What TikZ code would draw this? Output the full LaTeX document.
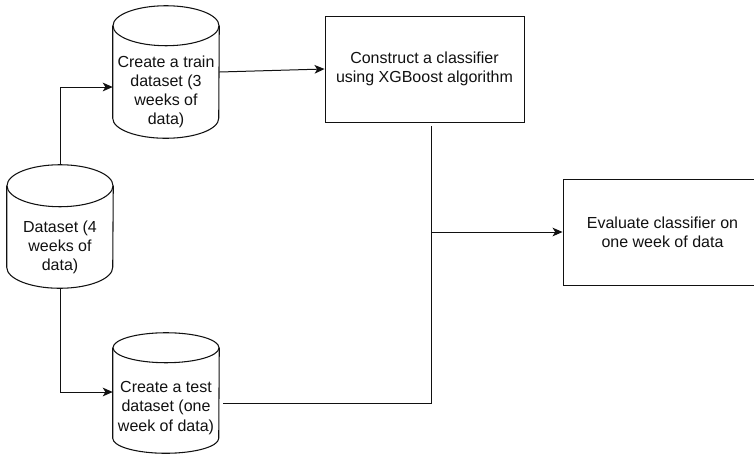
\documentclass[tikz,border=0pt]{standalone}
\usepackage{fontspec}
\setmainfont{Liberation Sans}
\usetikzlibrary{arrows.meta,calc}
\definecolor{ink}{HTML}{111111}

% cylinder outline round a body node: #1 node, #2 half height of the end ellipse
\newcommand{\dbdraw}[2]{%
  \draw[dbline] ($(#1.north west)+(0,#2)$) -- ($(#1.south west)+(0,#2)$)
    arc[start angle=180,end angle=360,x radius=53,y radius=#2]
    -- ($(#1.north east)+(0,#2)$);
  \draw[dbline] ($(#1.north)+(0,#2)$) ellipse[x radius=53,y radius=#2];
}

\begin{document}
\begin{tikzpicture}[
    x=0.75pt,y=0.75pt,
    >={Stealth[length=7.5pt,width=6.5pt,inset=2pt]},
    font=\fontsize{12}{14.3}\selectfont,
    % --- data stores -------------------------------------------------
    db/.style={minimum width=79.5pt,inner sep=0pt,align=center,text=ink},
    dbline/.style={draw=ink,line width=0.8pt},
    % --- process boxes -----------------------------------------------
    proc/.style={draw=ink,line width=0.7pt,minimum width=149.25pt,
                 minimum height=79.5pt,inner sep=0pt,align=center,text=ink},
    % --- connectors --------------------------------------------------
    flow/.style={draw=ink,line width=0.75pt},
  ]
\useasboundingbox (0,0) rectangle (754,-455);

% =====================================================================
%  Data stores
% =====================================================================
\node[db,minimum height=60.75pt] (data) at (60,-247.5)
     {Dataset (4\\weeks of\\data)};
\dbdraw{data}{21}

\node[db,minimum height=69pt] (train) at (166,-92)
     {Create a train\\dataset (3\\weeks of\\data)};
\dbdraw{train}{20}

\node[db,minimum height=67.5pt] (test) at (166,-408)
     {Create a test\\dataset (one\\week of data)};
\dbdraw{test}{15}

% =====================================================================
%  Processes
% =====================================================================
\node[proc] (build) at (424.5,-69)
     {Construct a classifier\\using XGBoost algorithm};
\node[proc] (eval) at (662.5,-232)
     {Evaluate classifier on\\one week of data};

\coordinate (merge) at (431,-232);

% =====================================================================
%  Connectors
% =====================================================================
\draw[flow,->] ($(data.north)+(0,42)$) |- ($(train.west)+(0,5)$);
\draw[flow,->] (data.south) |- ($(test.west)+(0,16)$);
\draw[flow,->] ($(train.east)+(0,20)$) -- (build.west);
\draw[flow] ($(build.south)+(6.5,-4)$) -- (merge);
\draw[flow] ($(test.east)+(4,5)$) -| (merge);
\draw[flow,->] (merge) -- (eval.west);

\end{tikzpicture}
\end{document}
